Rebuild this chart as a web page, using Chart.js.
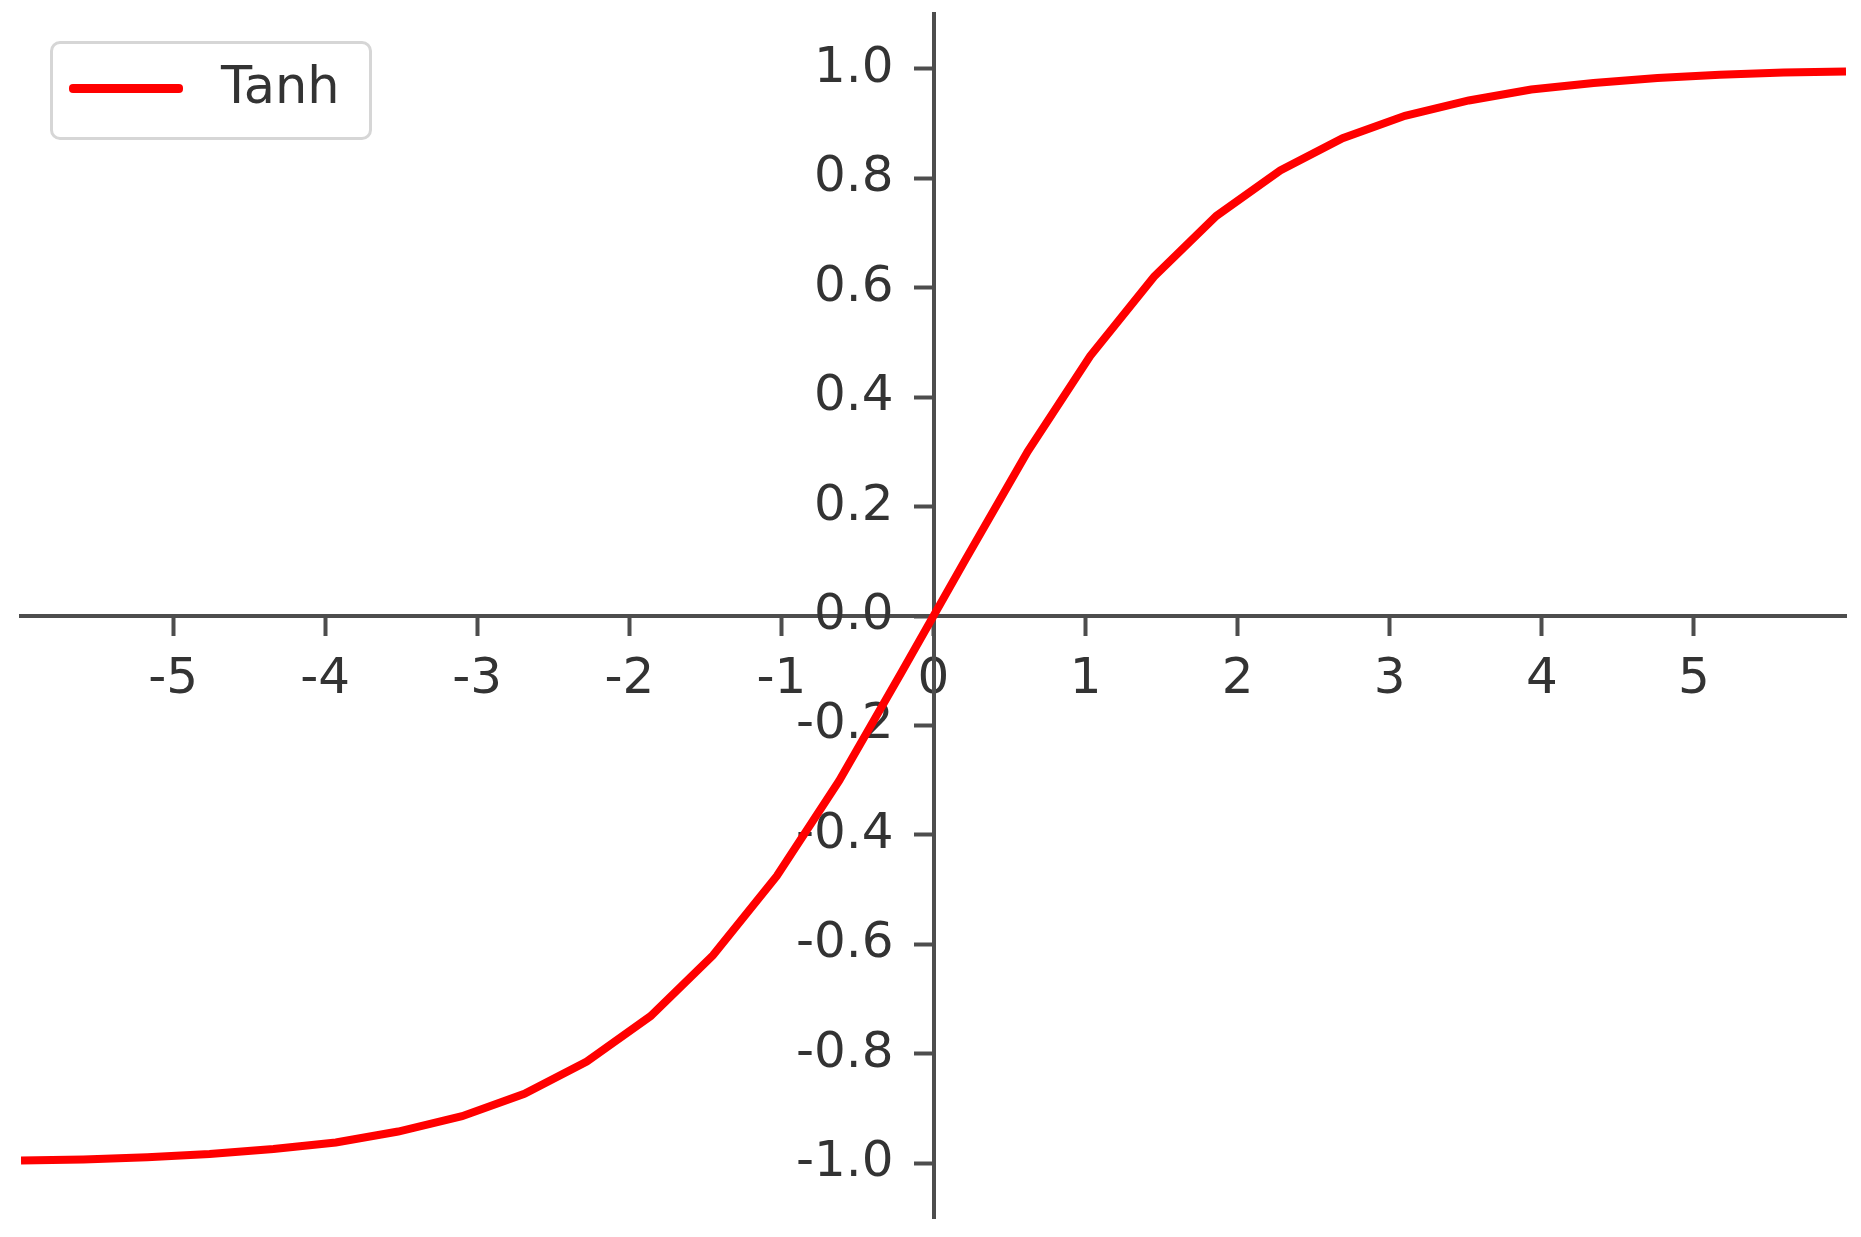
<!DOCTYPE html>
<html lang="en">
<head>
    <meta charset="UTF-8">
    <title>Tanh</title>
    <script src="https://cdn.jsdelivr.net/npm/chart.js"></script>
    <style>
        body { margin: 0; background: #fff; font-family: "DejaVu Sans", sans-serif; }
        #wrap { position: relative; width: 1861px; height: 1237px; }
        #legend { position: absolute; left: 50px; top: 41px; width: 322px; height: 99px; box-sizing: border-box;
                  border: 3px solid #d6d6d6; border-radius: 10px; background: #fff; }
        #legend .swatch { position: absolute; left: 16px; top: 40px; width: 114px; height: 9px; background: #ff0000; border-radius: 4px; }
        #legend .label { position: absolute; left: 168px; top: 12px; font-size: 51px; line-height: 60px; color: #333; }
    </style>
</head>
<body>
<div id="wrap">
    <canvas id="tanhChart" width="1861" height="1237"></canvas>
    <div id="legend"><span class="swatch"></span><span class="label">Tanh</span></div>
</div>

<script>
    const xValues = [-6.00, -5.59, -5.17, -4.76, -4.34, -3.93, -3.52, -3.10, -2.69, -2.28,
                     -1.86, -1.45, -1.03, -0.62, -0.21, 0.21, 0.62, 1.03, 1.45, 1.86,
                     2.28, 2.69, 3.10, 3.52, 3.93, 4.34, 4.76, 5.17, 5.59, 6.00];
    const yValues = [-0.995, -0.993, -0.989, -0.983, -0.974, -0.962, -0.942, -0.914, -0.873, -0.814,
                     -0.731, -0.620, -0.475, -0.301, -0.103, 0.103, 0.301, 0.475, 0.620, 0.731,
                     0.814, 0.873, 0.914, 0.942, 0.962, 0.974, 0.983, 0.989, 0.993, 0.995];
    const xTicks = [-5, -4, -3, -2, -1, 0, 1, 2, 3, 4, 5];
    const yTicks = [-1.0, -0.8, -0.6, -0.4, -0.2, 0.0, 0.2, 0.4, 0.6, 0.8, 1.0];
    const seriesName = 'Tanh';

    const axisColor = '#4d4d4d';
    const textColor = '#333';
    const tickFont = { family: 'DejaVu Sans', size: 50 };

    // center axes must not push the chart area around
    function noPadding(scale) {
        scale.paddingTop = 0; scale.paddingBottom = 0;
        scale.paddingLeft = 0; scale.paddingRight = 0;
    }

    new Chart(document.getElementById('tanhChart'), {
        type: 'line',
        data: {
            datasets: [{
                label: seriesName,
                data: xValues.map((x, i) => ({ x: x, y: yValues[i] })),
                borderColor: '#ff0000',
                borderWidth: 8,
                pointRadius: 0,
                tension: 0,
                fill: false
            }]
        },
        options: {
            responsive: false,
            animation: false,
            layout: { padding: { left: 21, right: 15, top: 14, bottom: 19 } },
            plugins: { legend: { display: false }, tooltip: { enabled: false } },
            scales: {
                x: {
                    type: 'linear',
                    min: -6, max: 6,
                    position: { y: 0 },
                    afterBuildTicks: s => { s.ticks = xTicks.map(v => ({ value: v })); },
                    afterFit: noPadding,
                    border: { display: true, color: axisColor, width: 4 },
                    grid: { drawOnChartArea: false, drawTicks: true, tickLength: 18, tickWidth: 4, tickColor: axisColor },
                    ticks: {
                        autoSkip: false, maxRotation: 0, padding: 16,
                        color: textColor, font: tickFont,
                        callback: v => String(v)
                    }
                },
                y: {
                    type: 'linear',
                    min: -1.1, max: 1.1,
                    // x range is symmetric, so the centre of the plot is x = 0
                    position: 'center',
                    afterBuildTicks: s => { s.ticks = yTicks.map(v => ({ value: v })); },
                    afterFit: noPadding,
                    border: { display: true, color: axisColor, width: 4 },
                    grid: { drawOnChartArea: false, drawTicks: true, tickLength: 18, tickWidth: 4, tickColor: axisColor },
                    ticks: {
                        autoSkip: false, padding: 22,
                        color: textColor, font: tickFont,
                        callback: v => v.toFixed(1)
                    }
                }
            }
        }
    });
</script>
</body>
</html>
